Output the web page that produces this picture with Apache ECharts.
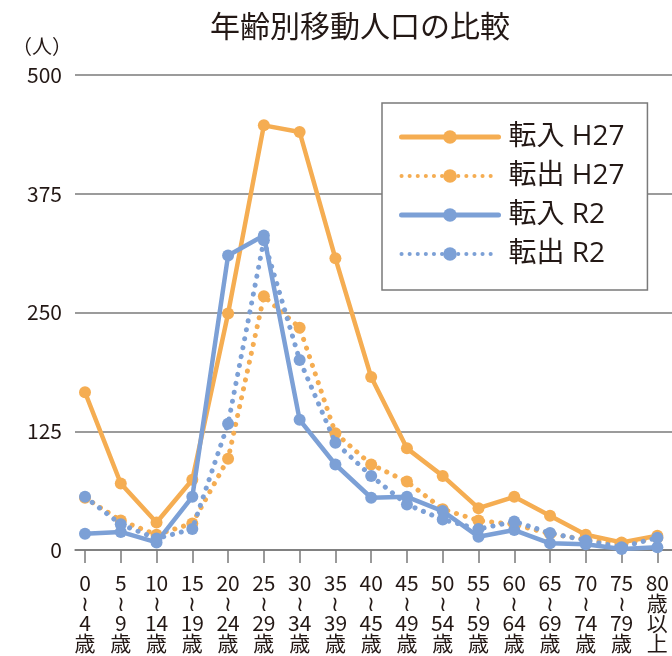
<!DOCTYPE html>
<html>
<head>
<meta charset="utf-8">
<script src="https://cdn.jsdelivr.net/npm/echarts@6/dist/echarts.min.js"></script>
<style>html,body{margin:0;padding:0;background:#fff;}#main{width:672px;height:656px;}</style>
</head>
<body>
<div id="main"></div>
<script>
const categories = ["0\n≀\n4\n歳","5\n≀\n9\n歳","10\n≀\n14\n歳","15\n≀\n19\n歳","20\n≀\n24\n歳","25\n≀\n29\n歳","30\n≀\n34\n歳","35\n≀\n39\n歳","40\n≀\n45\n歳","45\n≀\n49\n歳","50\n≀\n54\n歳","55\n≀\n59\n歳","60\n≀\n64\n歳","65\n≀\n69\n歳","70\n≀\n74\n歳","75\n≀\n79\n歳","80\n歳\n以\n上"];
const seriesNames = ["転入 H27","転出 H27","転入 R2","転出 R2"];
const inH27  = [166, 70, 29, 74, 249, 447, 440, 307, 182, 107, 78, 44, 56, 36, 16, 8, 15];
const outH27 = [55, 31, 16, 28, 96, 267, 234, 123, 90, 72, 43, 31, 27, 17, 11, 6, 13];
const inR2   = [17, 19, 8, 56, 310, 331, 137, 90, 55, 56, 41, 14, 21, 7, 6, 1, 3];
const outR2  = [56, 27, 12, 22, 133, 326, 200, 113, 78, 48, 32, 22, 30, 18, 10, 3, 13];
const yTicks = [0, 125, 250, 375, 500];

const ORANGE = '#f5ad52';
const BLUE = '#7ca0d6';
const GRIDC = '#7a7a7a';
const TXT = '#231815';
const FONT = '"Noto Sans CJK JP", "Noto Sans", sans-serif';
const LFONT = '"Open Sans", "Noto Sans CJK JP", sans-serif';

const chart = echarts.init(document.getElementById('main'), null, {renderer: 'canvas'});

function mk(name, data, color, dotted, idx) {
  return {
    name: name, type: 'line', xAxisIndex: 1, yAxisIndex: 1, data: data,
    symbol: 'circle', symbolSize: 12, z: 2 + idx,
    itemStyle: {color: color},
    lineStyle: dotted ? {color: color, width: 5, type: [0.1, 9], cap: 'round'} : {color: color, width: 4.5},
    emphasis: {disabled: true},
    animation: false
  };
}
const colors = [ORANGE, ORANGE, BLUE, BLUE];
const dottedFlags = [false, true, false, true];
const legendData = seriesNames.map((n, i) => ({
  name: n,
  lineStyle: dottedFlags[i] ? {color: colors[i], width: 4, type: [0.1, 8], cap: 'round'} : {color: colors[i], width: 5, cap: 'round'}
}));

chart.setOption({
  animation: false,
  backgroundColor: '#fff',
  textStyle: {fontFamily: FONT, color: TXT},
  title: {
    text: '年齢別移動人口の比較', left: 210, top: 11, padding: 0,
    textStyle: {fontFamily: FONT, fontSize: 30, fontWeight: 'normal', color: TXT}
  },
  legend: {
    orient: 'vertical', left: 382, top: 103,
    padding: [20, 23, 22, 17],
    itemGap: 11,
    itemWidth: 97, itemHeight: 17,
    backgroundColor: '#fff', borderColor: GRIDC, borderWidth: 1.5,
    textStyle: {fontFamily: LFONT, fontSize: 28, color: TXT, lineHeight: 27, padding: [0, 0, 0, 5]},
    data: legendData,
    selectedMode: false
  },
  grid: [
    {left: 75, right: 0, top: 75, bottom: 106},
    {left: 85, right: 11, top: 75, bottom: 106}
  ],
  xAxis: [
    {type: 'value', gridIndex: 0, min: 0, max: 1, axisLine: {show: true, lineStyle: {color: GRIDC, width: 1.5}},
     axisTick: {show: false}, axisLabel: {show: false}, splitLine: {show: false}},
    {type: 'category', gridIndex: 1, data: categories, boundaryGap: false,
     axisLine: {show: false},
     axisTick: {show: true, length: 13, lineStyle: {color: GRIDC, width: 1.5}},
     axisLabel: {interval: 0, margin: 23, fontSize: 21, lineHeight: 20, color: TXT, fontFamily: FONT},
     splitLine: {show: false}}
  ],
  yAxis: [
    {type: 'value', gridIndex: 0, min: yTicks[0], max: yTicks[yTicks.length - 1], interval: yTicks[1] - yTicks[0],
     name: '（人）', nameLocation: 'end', nameGap: 29,
     nameTextStyle: {fontFamily: FONT, fontSize: 20, color: TXT, align: 'right', verticalAlign: 'middle', padding: [0, 3, 0, 0]},
     axisLine: {show: false}, axisTick: {show: false},
     axisLabel: {margin: 13, fontSize: 21, color: TXT, fontFamily: FONT, verticalAlign: 'middle', padding: [0, 0, 8, 0]},
     splitLine: {show: true, lineStyle: {color: GRIDC, width: 1.5}}},
    {type: 'value', gridIndex: 1, min: yTicks[0], max: yTicks[yTicks.length - 1], interval: yTicks[1] - yTicks[0],
     show: false, splitLine: {show: false}}
  ],
  series: [
    mk(seriesNames[0], inH27, ORANGE, false, 0),
    mk(seriesNames[1], outH27, ORANGE, true, 1),
    mk(seriesNames[2], inR2, BLUE, false, 2),
    mk(seriesNames[3], outR2, BLUE, true, 3)
  ]
});
</script>
</body>
</html>
